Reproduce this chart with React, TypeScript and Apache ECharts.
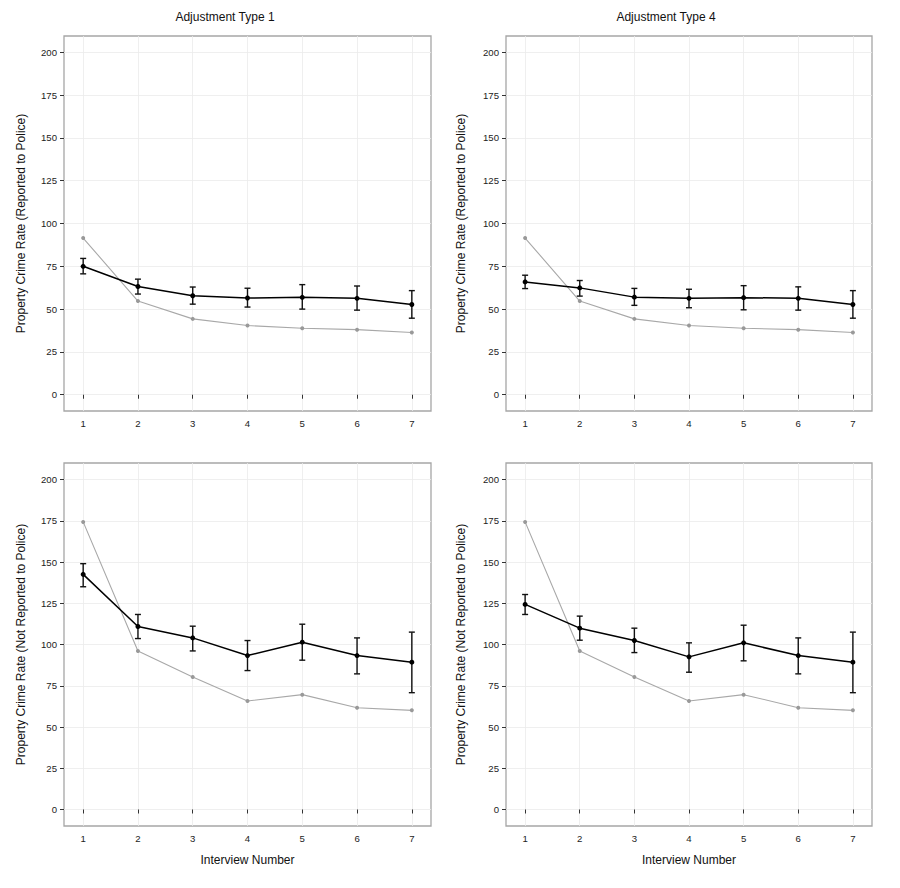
import React, { useEffect, useRef } from "react";
import * as echarts from "echarts";

const interviews = [1, 2, 3, 4, 5, 6, 7];
const yTicks = [0, 25, 50, 75, 100, 125, 150, 175, 200];

const unadjReported = [91.5, 54.7, 44.3, 40.4, 38.8, 38.0, 36.3];
const adj1RepMean = [75.0, 63.2, 57.8, 56.5, 56.9, 56.3, 52.7];
const adj1RepLo = [70.6, 58.8, 52.9, 51.2, 50.0, 49.4, 44.7];
const adj1RepHi = [79.6, 67.5, 62.9, 62.2, 64.3, 63.5, 60.8];
const adj4RepMean = [65.9, 62.4, 57.0, 56.3, 56.7, 56.3, 52.7];
const adj4RepLo = [62.0, 57.6, 52.2, 50.8, 49.6, 49.4, 44.7];
const adj4RepHi = [69.8, 66.7, 62.1, 61.6, 63.7, 63.0, 60.8];

const unadjNotReported = [174.3, 96.1, 80.3, 65.8, 69.6, 61.7, 60.1];
const adj1NotMean = [142.5, 110.9, 104.0, 93.3, 101.4, 93.3, 89.3];
const adj1NotLo = [135.0, 103.6, 96.1, 84.2, 90.5, 82.2, 70.8];
const adj1NotHi = [149.0, 118.2, 111.1, 102.4, 112.3, 104.0, 107.5];
const adj4NotMean = [124.3, 109.9, 102.4, 92.5, 101.0, 93.3, 89.3];
const adj4NotLo = [118.2, 102.6, 95.1, 83.2, 90.1, 82.2, 70.8];
const adj4NotHi = [130.3, 117.2, 109.9, 101.0, 111.7, 104.0, 107.5];

const panelTitles = ["Adjustment Type 1", "Adjustment Type 4"];
const yNames = [
  "Property Crime Rate (Reported to Police)",
  "Property Crime Rate (Not Reported to Police)",
];
const xName = "Interview Number";

const FONT = "Liberation Sans, Arial, Helvetica, sans-serif";

export default function App() {
  const ref = useRef<HTMLDivElement>(null);
  useEffect(() => {
    if (!ref.current) return;
    const chart = echarts.init(ref.current, null, { renderer: "svg" });

    const grids = [
      { left: 64, top: 36, width: 367, height: 375 },
      { left: 506, top: 36, width: 366, height: 375 },
      { left: 64, top: 463, width: 367, height: 363 },
      { left: 506, top: 463, width: 366, height: 363 },
    ].map((g) => ({
      ...g,
      show: true,
      borderColor: "#a6a6a6",
      borderWidth: 1.3,
      backgroundColor: "#fff",
    }));

    const panels = [
      { gray: unadjReported, mean: adj1RepMean, lo: adj1RepLo, hi: adj1RepHi, row: 0 },
      { gray: unadjReported, mean: adj4RepMean, lo: adj4RepLo, hi: adj4RepHi, row: 0 },
      { gray: unadjNotReported, mean: adj1NotMean, lo: adj1NotLo, hi: adj1NotHi, row: 1 },
      { gray: unadjNotReported, mean: adj4NotMean, lo: adj4NotLo, hi: adj4NotHi, row: 1 },
    ];

    const xAxes = panels.map((p, i) => ({
      type: "value",
      gridIndex: i,
      min: 0.65,
      max: 7.35,
      name: p.row === 1 ? xName : "",
      nameLocation: "middle",
      nameGap: 28,
      nameTextStyle: { fontFamily: FONT, fontSize: 12, color: "#111" },
      axisLine: { show: false },
      axisTick: {
        show: true,
        length: 4,
        lineStyle: { color: "#333", width: 1 },
        customValues: interviews,
      },
      axisLabel: {
        customValues: interviews,
        margin: 7,
        fontFamily: FONT,
        fontSize: 9.6,
        color: "#222",
      },
      splitLine: { show: true, lineStyle: { color: "#ebebeb", width: 0.8 } },
    }));

    const yAxes = panels.map((p, i) => ({
      type: "value",
      gridIndex: i,
      min: p.row === 0 ? -9.5 : -10,
      max: p.row === 0 ? 209.5 : 210,
      name: yNames[p.row],
      nameLocation: "middle",
      nameGap: i % 2 === 0 ? 37 : 39,
      nameTextStyle: { fontFamily: FONT, fontSize: 12, color: "#111" },
      axisLine: { show: false },
      axisTick: {
        show: true,
        length: 4,
        lineStyle: { color: "#333", width: 1 },
        customValues: yTicks,
      },
      axisLabel: {
        customValues: yTicks,
        margin: 7,
        fontFamily: FONT,
        fontSize: 9.6,
        color: "#222",
      },
      splitLine: { show: true, lineStyle: { color: "#ebebeb", width: 0.8 } },
    }));

    const series: any[] = [];
    panels.forEach((p, i) => {
      series.push({
        type: "line",
        xAxisIndex: i,
        yAxisIndex: i,
        data: interviews.map((x, k) => [x, p.gray[k]]),
        symbol: "circle",
        symbolSize: 4,
        lineStyle: { color: "#a8a8a8", width: 1.1 },
        itemStyle: { color: "#999" },
        z: 2,
      });
      series.push({
        type: "custom",
        xAxisIndex: i,
        yAxisIndex: i,
        data: interviews.map((x, k) => [x, p.lo[k], p.hi[k]]),
        renderItem: (params: any, api: any) => {
          const x = api.value(0);
          const lo = api.coord([x, api.value(1)]);
          const hi = api.coord([x, api.value(2)]);
          const cap = 3;
          const style = { stroke: "#111", lineWidth: 1.4 };
          return {
            type: "group",
            children: [
              { type: "line", shape: { x1: hi[0], y1: hi[1], x2: lo[0], y2: lo[1] }, style },
              { type: "line", shape: { x1: hi[0] - cap, y1: hi[1], x2: hi[0] + cap, y2: hi[1] }, style },
              { type: "line", shape: { x1: lo[0] - cap, y1: lo[1], x2: lo[0] + cap, y2: lo[1] }, style },
            ],
          };
        },
        z: 3,
      });
      series.push({
        type: "line",
        xAxisIndex: i,
        yAxisIndex: i,
        data: interviews.map((x, k) => [x, p.mean[k]]),
        symbol: "circle",
        symbolSize: 5,
        lineStyle: { color: "#000", width: 1.5 },
        itemStyle: { color: "#000" },
        z: 4,
      });
    });

    chart.setOption({
      animation: false,
      backgroundColor: "#fff",
      grid: grids,
      xAxis: xAxes,
      yAxis: yAxes,
      series,
      graphic: [
        {
          type: "text",
          x: 225,
          y: 17,
          style: {
            text: panelTitles[0],
            fontFamily: FONT,
            fontSize: 12,
            fill: "#111",
            align: "center",
            verticalAlign: "middle",
          },
        },
        {
          type: "text",
          x: 666,
          y: 17,
          style: {
            text: panelTitles[1],
            fontFamily: FONT,
            fontSize: 12,
            fill: "#111",
            align: "center",
            verticalAlign: "middle",
          },
        },
      ],
    });
    return () => chart.dispose();
  }, []);

  return (
    <div
      ref={ref}
      style={{ position: "fixed", left: 0, top: 0, width: 900, height: 888, background: "#fff" }}
    />
  );
}
